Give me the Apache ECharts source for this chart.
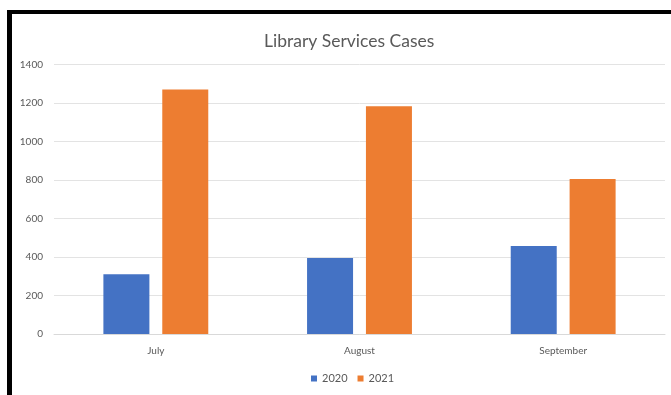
<!DOCTYPE html>
<html>
<head>
<meta charset="utf-8">
<script src="https://cdn.jsdelivr.net/npm/echarts@6/dist/echarts.min.js"></script>
<style>
html,body{margin:0;padding:0;background:#fff;}
#chart{width:671px;height:395px;}
</style>
</head>
<body>
<div id="chart"></div>
<script>
const title = 'Library Services Cases';
const categories = ['July', 'August', 'September'];
const seriesNames = ['2020', '2021'];
const values2020 = [310, 395, 457];
const values2021 = [1270, 1183, 805];
const yTicks = [0, 200, 400, 600, 800, 1000, 1200, 1400];

const chart = echarts.init(document.getElementById('chart'), null, {renderer: 'canvas'});
const font = 'Lato, "Open Sans", sans-serif';
chart.setOption({
  animation: false,
  backgroundColor: '#fff',
  title: {
    text: title, left: 259, top: 27,
    textStyle: {fontFamily: font, fontSize: 17.5, fontWeight: 'normal', color: '#595959'}
  },
  legend: {
    data: seriesNames, bottom: 6, left: 306,
    itemWidth: 6, itemHeight: 6, itemGap: 10, icon: 'rect',
    textStyle: {fontFamily: font, fontSize: 11, color: '#595959'}
  },
  grid: {left: 54, right: 6, top: 64.5, bottom: 61, containLabel: false},
  xAxis: {
    type: 'category', data: categories,
    axisLine: {lineStyle: {color: '#d9d9d9', width: 1}},
    axisTick: {show: false},
    axisLabel: {fontFamily: font, fontSize: 10, color: '#595959', margin: 12}
  },
  yAxis: {
    type: 'value', min: yTicks[0], max: yTicks[yTicks.length - 1], interval: 200,
    axisLine: {show: false}, axisTick: {show: false},
    splitLine: {lineStyle: {color: '#e3e3e3', width: 1}},
    axisLabel: {fontFamily: font, fontSize: 10, color: '#595959', margin: 11,
      formatter: v => String(v)}
  },
  series: [
    {name: seriesNames[0], type: 'bar', data: values2020, barWidth: 46, barGap: '28%',
     itemStyle: {color: '#4472C4'}},
    {name: seriesNames[1], type: 'bar', data: values2021, barWidth: 46, barGap: '28%',
     itemStyle: {color: '#ED7D31'}}
  ],
  graphic: [
    {type: 'rect', shape: {x: 7, y: 10, width: 664, height: 4}, style: {fill: '#000'}, silent: true},
    {type: 'rect', shape: {x: 7, y: 10, width: 5, height: 385}, style: {fill: '#000'}, silent: true}
  ]
});
</script>
</body>
</html>
